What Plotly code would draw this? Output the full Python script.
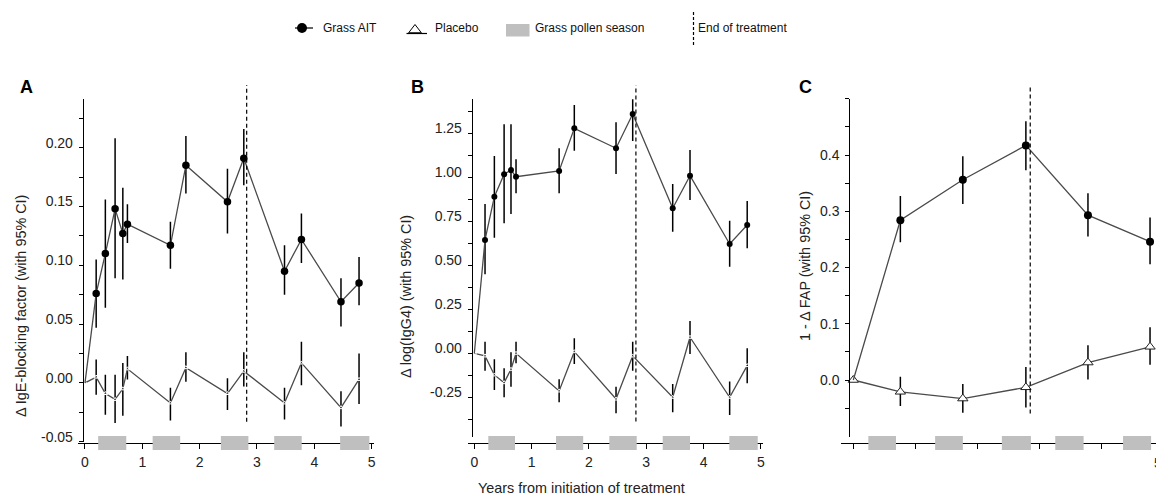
import plotly.graph_objects as go

W, H = 1156, 495

# ---------------- data ----------------
# Panel A: change in IgE-blocking factor
a_years = [0, 0.195, 0.355, 0.525, 0.66, 0.74, 1.49, 1.76, 2.485, 2.77, 3.48, 3.775, 4.465, 4.78]
a_ait = [0, 0.076, 0.110, 0.148, 0.127, 0.135, 0.117, 0.185, 0.154, 0.191, 0.095, 0.122, 0.069, 0.085]
a_ait_lo = [0, 0.047, 0.064, 0.089, 0.088, 0.119, 0.097, 0.161, 0.127, 0.168, 0.075, 0.102, 0.048, 0.066]
a_ait_hi = [0, 0.105, 0.156, 0.208, 0.166, 0.152, 0.137, 0.210, 0.182, 0.216, 0.117, 0.144, 0.089, 0.107]
a_pla = [0, 0.005, -0.009, -0.014, -0.005, 0.012, -0.017, 0.013, -0.009, 0.010, -0.017, 0.017, -0.021, 0.003]
a_pla_lo = [0, -0.010, -0.027, -0.034, -0.028, 0.003, -0.032, 0.001, -0.023, -0.003, -0.031, -0.002, -0.037, -0.018]
a_pla_hi = [0, 0.020, 0.007, 0.007, 0.017, 0.023, -0.004, 0.026, 0.004, 0.026, -0.004, 0.035, -0.007, 0.025]
a_season_start = [0.23, 1.18, 2.37, 3.30, 4.45]
a_season_end = [0.72, 1.66, 2.85, 3.78, 4.96]
a_end_treatment = 2.82
a_yticks = [-0.05, -0.025, 0.0, 0.025, 0.05, 0.075, 0.10, 0.125, 0.15, 0.175, 0.20, 0.225]
a_ylabels = ["-0.05", "", "0.00", "", "0.05", "", "0.10", "", "0.15", "", "0.20", ""]

# Panel B: change in log(IgG4)
b_years = [0, 0.187, 0.35, 0.52, 0.64, 0.728, 1.48, 1.745, 2.473, 2.764, 3.462, 3.764, 4.456, 4.762]
b_ait = [0, 0.644, 0.890, 1.017, 1.041, 1.003, 1.036, 1.278, 1.165, 1.360, 0.824, 1.009, 0.621, 0.729]
b_ait_lo = [0, 0.449, 0.657, 0.739, 0.791, 0.909, 0.909, 1.151, 1.019, 1.206, 0.691, 0.871, 0.492, 0.597]
b_ait_hi = [0, 0.848, 1.121, 1.301, 1.301, 1.102, 1.165, 1.411, 1.313, 1.500, 0.962, 1.155, 0.753, 0.865]
b_pla = [0, -0.015, -0.123, -0.167, -0.091, 0.0, -0.214, 0.009, -0.260, -0.015, -0.250, 0.091, -0.250, -0.070]
b_pla_lo = [0, -0.099, -0.209, -0.250, -0.190, -0.057, -0.278, -0.061, -0.341, -0.099, -0.335, -0.004, -0.350, -0.170]
b_pla_hi = [0, 0.066, -0.034, -0.085, 0.006, 0.066, -0.148, 0.085, -0.190, 0.066, -0.174, 0.184, -0.161, 0.028]
b_season_start = [0.244, 1.426, 2.356, 3.288, 4.45]
b_season_end = [0.71, 1.90, 2.834, 3.764, 4.946]
b_end_treatment = 2.82
b_yticks = [-0.375, -0.25, -0.125, 0.0, 0.125, 0.25, 0.375, 0.5, 0.625, 0.75, 0.875, 1.0, 1.125, 1.25, 1.375]
b_ylabels = ["", "-0.25", "", "0.00", "", "0.25", "", "0.50", "", "0.75", "", "1.00", "", "1.25", ""]

# Panel C: 1 - change in FAP
c_years = [0, 0.758, 1.764, 2.78, 3.78, 4.78]
c_ait = [0, 0.284, 0.356, 0.417, 0.293, 0.246]
c_ait_lo = [0, 0.245, 0.313, 0.373, 0.255, 0.206]
c_ait_hi = [0, 0.327, 0.398, 0.460, 0.332, 0.289]
c_pla = [0, -0.021, -0.033, -0.013, 0.031, 0.059]
c_pla_lo = [0, -0.046, -0.058, -0.049, 0.001, 0.027]
c_pla_hi = [0, 0.006, -0.007, 0.023, 0.062, 0.094]
c_season_start = [0.242, 1.318, 2.393, 3.253, 4.345]
c_season_end = [0.688, 1.765, 2.861, 3.71, 4.797]
c_end_treatment = 2.85
c_yticks = [-0.05, 0.0, 0.05, 0.1, 0.15, 0.2, 0.25, 0.3, 0.35, 0.4, 0.45, 0.5]
c_ylabels = ["", "0.0", "", "0.1", "", "0.2", "", "0.3", "", "0.4", "", ""]

x_ticks = [0, 1, 2, 3, 4, 5]
ab_xlabels = ["0", "1", "2", "3", "4", "5"]
c_xlabels = ["0", "1", "2", "2", "4", "5"]

panel_letters = ["A", "B", "C"]
y_titles = ["\u0394 IgE-blocking factor (with 95% CI)",
            "\u0394 log(IgG4) (with 95% CI)",
            "1 - \u0394 FAP (with 95% CI)"]
x_title = "Years from initiation of treatment"
legend_labels = ["Grass AIT", "Placebo", "Grass pollen season", "End of treatment"]

# ---------------- layout geometry (pixels) ----------------
FONT = "Liberation Sans, Arial, sans-serif"
LINE_COL = "#4a4a4a"
TEXT_COL = "#222222"
SEASON_COL = "#bfbfbf"
CLEAR = "rgba(0,0,0,0)"


def fx(p):
    return p / W


def fy(p):
    return 1 - p / H


panels = [
    dict(ax="", years=a_years, ait=a_ait, ait_lo=a_ait_lo, ait_hi=a_ait_hi,
         pla=a_pla, pla_lo=a_pla_lo, pla_hi=a_pla_hi,
         s0=a_season_start, s1=a_season_end, eot=a_end_treatment,
         yt=a_yticks, yl=a_ylabels, xl=ab_xlabels, own_xlabels=True,
         xdom=(78, 374), xrange=(-0.122, 5.041),
         ydom=(441.75, 99), yrange=(-0.05, 0.2414), yline=82.7,
         dot=7.5, pla_sym="triangle-up-open", pla_size=4, shift=-5,
         eot_dom=(0.058, 1.041)),
    dict(ax="2", years=b_years, ait=b_ait, ait_lo=b_ait_lo, ait_hi=b_ait_hi,
         pla=b_pla, pla_lo=b_pla_lo, pla_hi=b_pla_hi,
         s0=b_season_start, s1=b_season_end, eot=b_end_treatment,
         yt=b_yticks, yl=b_ylabels, xl=ab_xlabels, own_xlabels=True,
         xdom=(468.3, 763.3), xrange=(-0.105, 5.043),
         ydom=(436.7, 99.3), yrange=(-0.474, 1.443), yline=471.7,
         dot=6, pla_sym="triangle-up-open", pla_size=4, shift=-5,
         eot_dom=(0.045, 1.042)),
    dict(ax="3", years=c_years, ait=c_ait, ait_lo=c_ait_lo, ait_hi=c_ait_hi,
         pla=c_pla, pla_lo=c_pla_lo, pla_hi=c_pla_hi,
         s0=c_season_start, s1=c_season_end, eot=c_end_treatment,
         yt=c_yticks, yl=c_ylabels, xl=c_xlabels, own_xlabels=False,
         xdom=(840.7, 1156), xrange=(-0.203, 4.876),
         ydom=(436.7, 98.75), yrange=(-0.1008, 0.5), yline=849.3,
         dot=8, pla_sym="triangle-up", pla_size=9, shift=0,
         eot_dom=(0.069, 1.042)),
]
XLINE = 443
XLABEL_Y = 463

fig = go.Figure()
shapes = []
annotations = []
layout = {}


def err(vals, lo, hi):
    return dict(type="data", symmetric=False,
                array=[h - v for v, h in zip(vals, hi)],
                arrayminus=[v - l for v, l in zip(vals, lo)],
                color="black", thickness=1.5, width=0)


for i, p in enumerate(panels):
    xa, ya = "x" + p["ax"], "y" + p["ax"]
    # placebo series
    fig.add_trace(go.Scatter(
        x=p["years"], y=p["pla"], xaxis=xa, yaxis=ya, mode="lines+markers",
        line=dict(color=LINE_COL, width=1.3),
        marker=dict(symbol=p["pla_sym"], size=p["pla_size"], color="white",
                    line=dict(color="#222222", width=1)),
        error_y=err(p["pla"], p["pla_lo"], p["pla_hi"]),
        cliponaxis=False, showlegend=False))
    # active treatment series (baseline point has no dot)
    dot_sizes = [0] + [p["dot"]] * (len(p["years"]) - 1)
    fig.add_trace(go.Scatter(
        x=p["years"], y=p["ait"], xaxis=xa, yaxis=ya, mode="lines+markers",
        line=dict(color=LINE_COL, width=1.3),
        marker=dict(symbol="circle", size=dot_sizes, color="black", opacity=1,
                    line=dict(width=0)),
        error_y=err(p["ait"], p["ait_lo"], p["ait_hi"]),
        cliponaxis=False, showlegend=False))

    layout["xaxis" + p["ax"]] = dict(
        domain=[fx(p["xdom"][0]), fx(p["xdom"][1])], range=list(p["xrange"]),
        anchor="free", position=fy(XLINE), showline=True, linecolor="black",
        linewidth=1, ticks="outside", ticklen=5, tickwidth=1, tickcolor="black",
        tickvals=x_ticks, ticktext=p["xl"], showgrid=False, zeroline=False,
        showticklabels=p["own_xlabels"],
        ticklabelstandoff=1, ticklabeloverflow="allow",
        tickfont=dict(family=FONT, size=14, color=TEXT_COL))
    layout["yaxis" + p["ax"]] = dict(
        domain=[fy(p["ydom"][0]), fy(p["ydom"][1])], range=list(p["yrange"]),
        anchor="free", position=fx(p["yline"]), side="left", showline=True,
        linecolor="black", linewidth=1, ticks="outside", ticklen=4, tickwidth=1,
        tickcolor="black", tickvals=p["yt"], ticktext=p["yl"], showgrid=False,
        zeroline=False, ticklabelshift=p["shift"], ticklabelstandoff=3,
        ticklabeloverflow="allow",
        tickfont=dict(family=FONT, size=14, color=TEXT_COL))

    # year labels written as a text row under the axis of this panel
    if not p["own_xlabels"]:
        px_per_unit = (p["ydom"][0] - p["ydom"][1]) / (p["yrange"][1] - p["yrange"][0])
        label_y = p["yrange"][0] - (XLABEL_Y - p["ydom"][0]) / px_per_unit
        in_view = [(t, s) for t, s in zip(x_ticks, p["xl"]) if t <= p["xrange"][1]]
        fig.add_trace(go.Scatter(
            x=[t for t, _ in in_view], y=[label_y] * len(in_view),
            xaxis=xa, yaxis=ya, mode="text", text=[s for _, s in in_view],
            textposition="middle center", cliponaxis=False,
            textfont=dict(family=FONT, size=14, color=TEXT_COL),
            showlegend=False, hoverinfo="skip"))
        # last year label, only partly inside the page
        annotations.append(dict(xref="paper", yref="paper", x=1.0, y=fy(XLABEL_Y),
                                text=p["xl"][-1], showarrow=False, xanchor="left",
                                xshift=-4, yanchor="middle",
                                font=dict(family=FONT, size=14, color=TEXT_COL)))

    # pollen seasons sitting on the x axis
    for s0, s1 in zip(p["s0"], p["s1"]):
        shapes.append(dict(type="rect", xref=xa, yref="paper", x0=s0, x1=s1,
                           y0=fy(XLINE + 7), y1=fy(XLINE - 7),
                           fillcolor=SEASON_COL, line=dict(width=0),
                           layer="above"))
    # end of treatment
    shapes.append(dict(type="line", xref=xa, yref=ya + " domain",
                       x0=p["eot"], x1=p["eot"],
                       y0=p["eot_dom"][0], y1=p["eot_dom"][1],
                       line=dict(color="black", width=1.2, dash="4px,3px"),
                       layer="above"))

# transparent overlay axis in pixel units for legend and labels
layout["xaxis4"] = dict(domain=[0, 1], range=[0, W], visible=False,
                        fixedrange=True, anchor="y4")
layout["yaxis4"] = dict(domain=[0, 1], range=[H, 0], visible=False,
                        fixedrange=True, anchor="x4")

# legend glyphs
fig.add_trace(go.Scatter(x=[295, 313], y=[28, 28], xaxis="x4", yaxis="y4",
                         mode="lines", line=dict(color="black", width=1.2),
                         showlegend=False, hoverinfo="skip"))
fig.add_trace(go.Scatter(x=[302], y=[28], xaxis="x4", yaxis="y4", mode="markers",
                         marker=dict(symbol="circle", size=10, color="black"),
                         showlegend=False, hoverinfo="skip"))
fig.add_trace(go.Scatter(x=[406.5, 427], y=[33.5, 33.5], xaxis="x4", yaxis="y4",
                         mode="lines", line=dict(color="black", width=1.2),
                         showlegend=False, hoverinfo="skip"))
fig.add_trace(go.Scatter(x=[415], y=[30], xaxis="x4", yaxis="y4", mode="markers",
                         marker=dict(symbol="triangle-up", size=11, color="white",
                                     line=dict(color="black", width=1)),
                         showlegend=False, hoverinfo="skip"))
shapes.append(dict(type="rect", xref="x4", yref="y4", x0=506, x1=529.5,
                   y0=24, y1=36.5, fillcolor=SEASON_COL, line=dict(width=0)))
shapes.append(dict(type="line", xref="x4", yref="y4", x0=693.5, x1=693.5,
                   y0=12, y1=45, line=dict(color="black", width=1.2, dash="3px,2px")))

legend_x = [321, 433, 533, 696]
for lab, lx in zip(legend_labels, legend_x):
    annotations.append(dict(xref="x4", yref="y4", x=lx, y=28, text=lab,
                            showarrow=False, xanchor="left", yanchor="middle",
                            font=dict(family=FONT, size=12, color="#111111")))

# panel letters
for lab, lx in zip(panel_letters, [26, 417, 805]):
    annotations.append(dict(xref="x4", yref="y4", x=lx, y=87, text="<b>" + lab + "</b>",
                            showarrow=False, xanchor="center", yanchor="middle",
                            font=dict(family=FONT, size=18, color="black")))

# y axis titles
for lab, (tx, ty) in zip(y_titles, [(21, 306), (406, 297), (805, 266)]):
    annotations.append(dict(xref="x4", yref="y4", x=tx, y=ty, text=lab,
                            showarrow=False, textangle=-90,
                            xanchor="center", yanchor="middle",
                            font=dict(family=FONT, size=14.4, color=TEXT_COL)))

annotations.append(dict(xref="x4", yref="y4", x=581, y=488, text=x_title,
                        showarrow=False, xanchor="center", yanchor="middle",
                        font=dict(family=FONT, size=14.4, color=TEXT_COL)))

fig.update_layout(
    width=W, height=H, margin=dict(l=0, r=0, t=0, b=0, autoexpand=False),
    paper_bgcolor="white", plot_bgcolor=CLEAR,
    showlegend=False, shapes=shapes, annotations=annotations, **layout)

fig.write_html("out.html")
